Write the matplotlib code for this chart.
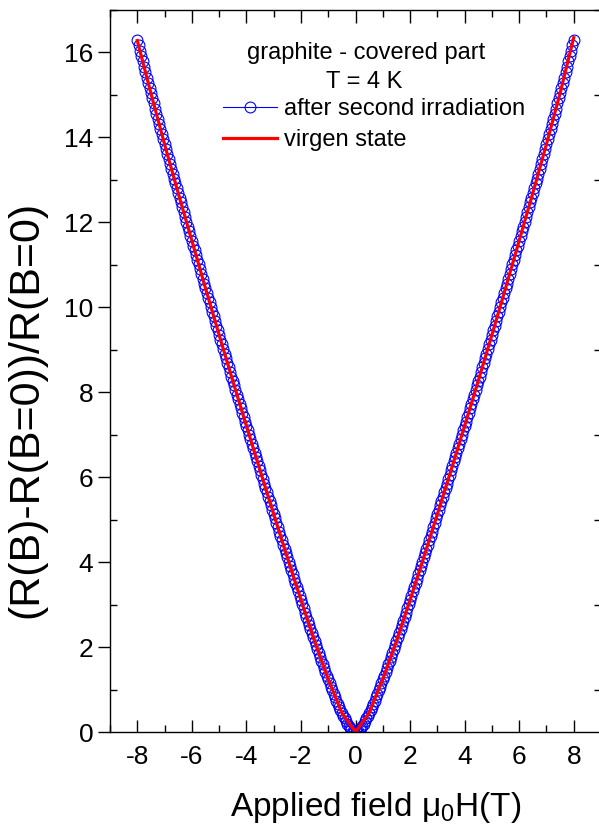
import numpy as np
import matplotlib
matplotlib.use("Agg")
import matplotlib.pyplot as plt
from matplotlib.ticker import MultipleLocator

plt.rcParams['font.family'] = ['Liberation Sans', 'DejaVu Sans']

# ---- data ----
# after second irradiation: field step 0.05 T
field_neg = np.round(np.arange(-160, 0) / 20.0, 2)
field_pos = np.round(np.arange(0, 161) / 20.0, 2)
mr_neg = [16.30, 16.17, 16.04, 15.91, 15.79, 15.66, 15.54, 15.41, 15.29, 15.16,
          15.04, 14.92, 14.80, 14.68, 14.56, 14.44, 14.32, 14.20, 14.08, 13.96,
          13.84, 13.72, 13.60, 13.49, 13.37, 13.26, 13.15, 13.03, 12.92, 12.80,
          12.69, 12.58, 12.47, 12.35, 12.24, 12.13, 12.02, 11.90, 11.79, 11.68,
          11.57, 11.45, 11.34, 11.23, 11.12, 11.01, 10.90, 10.78, 10.67, 10.56,
          10.45, 10.34, 10.23, 10.12, 10.01, 9.90, 9.79, 9.68, 9.57, 9.46,
          9.35, 9.24, 9.13, 9.02, 8.91, 8.80, 8.70, 8.59, 8.48, 8.37,
          8.27, 8.16, 8.05, 7.94, 7.84, 7.73, 7.63, 7.52, 7.42, 7.31,
          7.21, 7.10, 7.00, 6.89, 6.79, 6.68, 6.58, 6.47, 6.37, 6.26,
          6.16, 6.05, 5.95, 5.85, 5.75, 5.64, 5.54, 5.44, 5.34, 5.23,
          5.13, 5.03, 4.93, 4.82, 4.72, 4.62, 4.52, 4.41, 4.31, 4.21,
          4.11, 4.01, 3.91, 3.81, 3.71, 3.61, 3.51, 3.41, 3.31, 3.21,
          3.11, 3.01, 2.91, 2.81, 2.71, 2.61, 2.52, 2.42, 2.33, 2.23,
          2.14, 2.04, 1.95, 1.86, 1.77, 1.68, 1.59, 1.50, 1.41, 1.32,
          1.24, 1.15, 1.07, 0.98, 0.90, 0.82, 0.74, 0.66, 0.59, 0.52,
          0.45, 0.38, 0.32, 0.26, 0.20, 0.15, 0.10, 0.06, 0.03, 0.01]
mr_pos = [0.00, 0.01, 0.03, 0.06, 0.10, 0.15, 0.20, 0.26, 0.32, 0.38,
          0.45, 0.52, 0.59, 0.66, 0.74, 0.82, 0.90, 0.98, 1.07, 1.15,
          1.24, 1.32, 1.41, 1.50, 1.59, 1.68, 1.77, 1.86, 1.95, 2.04,
          2.14, 2.23, 2.33, 2.42, 2.52, 2.61, 2.71, 2.81, 2.91, 3.01,
          3.11, 3.21, 3.31, 3.41, 3.51, 3.61, 3.71, 3.81, 3.91, 4.01,
          4.11, 4.21, 4.31, 4.41, 4.52, 4.62, 4.72, 4.82, 4.93, 5.03,
          5.13, 5.23, 5.34, 5.44, 5.54, 5.64, 5.75, 5.85, 5.95, 6.05,
          6.16, 6.26, 6.37, 6.47, 6.58, 6.68, 6.79, 6.89, 7.00, 7.10,
          7.21, 7.31, 7.42, 7.52, 7.63, 7.73, 7.84, 7.94, 8.05, 8.16,
          8.27, 8.37, 8.48, 8.59, 8.70, 8.80, 8.91, 9.02, 9.13, 9.24,
          9.35, 9.46, 9.57, 9.68, 9.79, 9.90, 10.01, 10.12, 10.23, 10.34,
          10.45, 10.56, 10.67, 10.78, 10.90, 11.01, 11.12, 11.23, 11.34, 11.45,
          11.57, 11.68, 11.79, 11.90, 12.02, 12.13, 12.24, 12.35, 12.47, 12.58,
          12.69, 12.80, 12.92, 13.03, 13.15, 13.26, 13.37, 13.49, 13.60, 13.72,
          13.84, 13.96, 14.08, 14.20, 14.32, 14.44, 14.56, 14.68, 14.80, 14.92,
          15.04, 15.16, 15.29, 15.41, 15.54, 15.66, 15.79, 15.91, 16.04, 16.17,
          16.30]
field_blue = np.concatenate([field_neg, field_pos])
mr_blue = mr_neg + mr_pos

# virgen state: field step 0.5 T
field_red = [-8.0, -7.5, -7.0, -6.5, -6.0, -5.5, -5.0, -4.5, -4.0, -3.5, -3.0,
             -2.5, -2.0, -1.5, -1.0, -0.5, 0.0, 0.5, 1.0, 1.5, 2.0, 2.5, 3.0,
             3.5, 4.0, 4.5, 5.0, 5.5, 6.0, 6.5, 7.0, 7.5, 8.0]
mr_red = [16.28, 15.04, 13.84, 12.69, 11.57, 10.45, 9.35, 8.27, 7.21, 6.16, 5.13,
          4.11, 3.11, 2.14, 1.24, 0.45, 0.00, 0.45, 1.24, 2.14, 3.11, 4.11, 5.13,
          6.16, 7.21, 8.27, 9.35, 10.45, 11.57, 12.69, 13.84, 15.04, 16.35]

x_ticks = [-8, -6, -4, -2, 0, 2, 4, 6, 8]
y_ticks = [0, 2, 4, 6, 8, 10, 12, 14, 16]

fig = plt.figure(figsize=(5.99, 8.34), dpi=100)
ax = fig.add_axes([110/599, 102/834, 491/599, 722/834])

ax.plot(field_blue, mr_blue, color='#0000ff', lw=0.8, marker='o', ms=7.8,
        mfc='none', mec='#0000ff', mew=0.8, label='after second irradiation')
ax.plot(field_red, mr_red, color='#ff0000', lw=2.3, label='virgen state')

ax.set_xlim(-9, 9)
ax.set_ylim(0, 17)
ax.set_xticks(x_ticks)
ax.set_xticklabels([str(v) for v in x_ticks])
ax.set_yticks(y_ticks)
ax.set_yticklabels([str(v) for v in y_ticks])
ax.xaxis.set_minor_locator(MultipleLocator(1))
ax.yaxis.set_minor_locator(MultipleLocator(1))

ax.tick_params(axis='x', which='major', direction='in', length=9, width=1.0,
               top=True, labelsize=19, pad=9)
ax.tick_params(axis='x', which='minor', direction='in', length=5, width=1.0, top=True)
ax.tick_params(axis='y', which='major', direction='out', length=9, width=1.0,
               labelsize=19, pad=3)
ax.tick_params(axis='y', which='minor', direction='in', length=5, width=1.0)
ax.tick_params(axis='y', which='both', right=True)
for s in ax.spines.values():
    s.set_linewidth(1.0)

ax.set_xlabel(r'Applied field $\mathregular{\mu_0}$H(T)', fontsize=24)
ax.xaxis.set_label_coords(0.542, -0.080)
ax.set_ylabel('(R(B)-R(B=0))/R(B=0)', fontsize=31)
ax.yaxis.set_label_coords(-0.13, 0.447)

ax.text(0.4, 15.98, 'graphite - covered part', ha='center', va='center', fontsize=17)
ax.text(0.33, 15.30, 'T = 4 K', ha='center', va='center', fontsize=17)
ax.legend(loc='upper left', bbox_to_anchor=((223 - 110) / 491, 1 - 88 / 722),
          bbox_transform=ax.transAxes, frameon=False, fontsize=17,
          handlelength=2.3, handletextpad=0.3, labelspacing=0.38, borderpad=0,
          borderaxespad=0)

fig.savefig('out.png', dpi=100)
